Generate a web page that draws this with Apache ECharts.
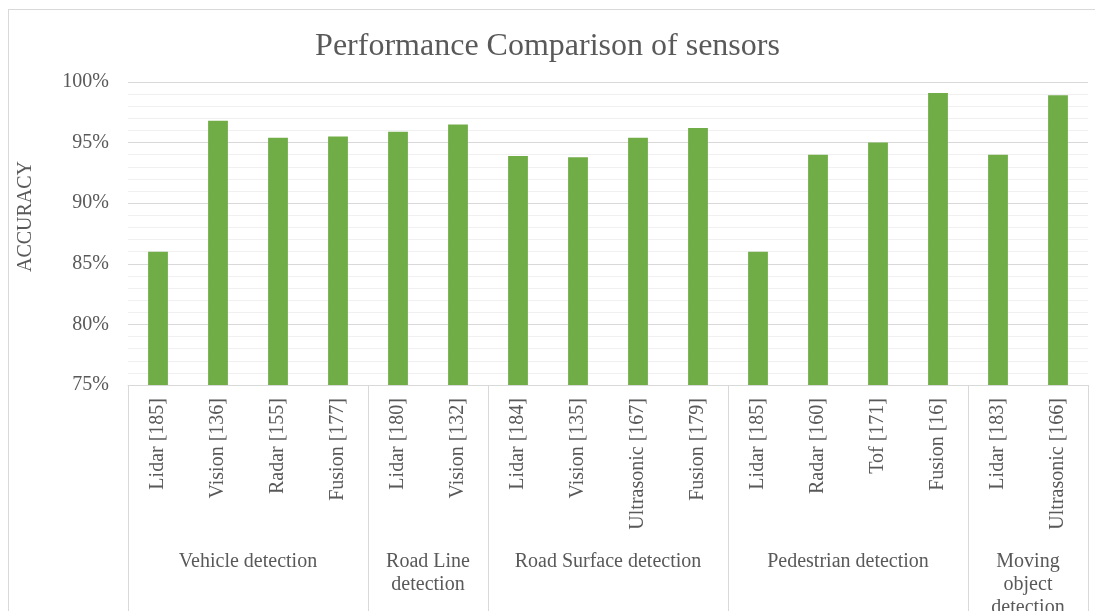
<!DOCTYPE html>
<html>
<head>
<meta charset="utf-8">
<script src="https://cdn.jsdelivr.net/npm/echarts@6/dist/echarts.min.js"></script>
<style>
  html, body { margin: 0; padding: 0; background: #fff; }
  #frame { position: absolute; left: 8px; top: 9px; width: 1200px; height: 700px; border: 1px solid #d9d9d9; box-sizing: border-box; }
  #chart { position: absolute; left: 0; top: 0; width: 1095px; height: 611px; }
</style>
</head>
<body>
<div id="frame"></div>
<div id="chart"></div>
<script>
const categories = ['Lidar [185]', 'Vision [136]', 'Radar [155]', 'Fusion [177]',
  'Lidar [180]', 'Vision [132]',
  'Lidar [184]', 'Vision [135]', 'Ultrasonic [167]', 'Fusion [179]',
  'Lidar [185]', 'Radar [160]', 'Tof [171]', 'Fusion [16]',
  'Lidar [183]', 'Ultrasonic [166]'];
const accuracy = [86, 96.8, 95.4, 95.5, 95.9, 96.5, 93.9, 93.8, 95.4, 96.2, 86, 94, 95, 99.1, 94, 98.9];
const groupNames = ['Vehicle detection', 'Road Line\ndetection', 'Road Surface detection', 'Pedestrian detection', 'Moving\nobject\ndetection'];
const groupSizes = [4, 2, 4, 4, 2];
const yTicks = [75, 80, 85, 90, 95, 100];

// group boundaries and centres derived from group sizes
const boundaries = [0];
const centres = [];
groupSizes.forEach(function (n) {
  const start = boundaries[boundaries.length - 1];
  centres.push(start + n / 2);
  boundaries.push(start + n);
});

const textColor = '#595959';
const font = 'Liberation Serif';

const chart = echarts.init(document.getElementById('chart'), null, { renderer: 'canvas' });
chart.setOption({
  backgroundColor: 'transparent',
  animation: false,
  title: {
    text: 'Performance Comparison of sensors',
    left: 'center',
    top: 26,
    textStyle: { fontFamily: font, fontSize: 32, fontWeight: 'normal', color: textColor }
  },
  grid: { left: 128, right: 7, top: 82, bottom: 226, containLabel: false, outerBoundsMode: 'none' },
  xAxis: [
    {
      type: 'category',
      data: categories,
      axisLine: { show: true, lineStyle: { color: '#d9d9d9', width: 1 } },
      axisTick: { show: false },
      axisLabel: {
        rotate: 90, interval: 0, margin: 13,
        fontFamily: font, fontSize: 20, color: textColor
      }
    },
    {
      type: 'value',
      min: 0,
      max: boundaries[boundaries.length - 1],
      position: 'bottom',
      axisLine: { show: false },
      splitLine: { show: false },
      axisTick: {
        show: true, length: 230, inside: false,
        customValues: boundaries,
        lineStyle: { color: '#d9d9d9', width: 1 }
      },
      axisLabel: {
        show: true,
        customValues: centres,
        margin: 165,
        verticalAlign: 'top',
        lineHeight: 23,
        fontFamily: font, fontSize: 20, color: textColor, align: 'center',
        formatter: function (v) {
          const i = centres.indexOf(v);
          return i >= 0 ? groupNames[i] : '';
        }
      }
    }
  ],
  yAxis: {
    type: 'value',
    min: yTicks[0],
    max: yTicks[yTicks.length - 1],
    interval: 5,
    name: 'ACCURACY',
    nameLocation: 'middle',
    nameGap: 92,
    nameRotate: 90,
    nameTextStyle: { fontFamily: font, fontSize: 20, color: textColor, padding: [0, 0, 0, 34] },
    axisLine: { show: false },
    axisTick: { show: false },
    axisLabel: { fontFamily: font, fontSize: 20, color: textColor, margin: 19, formatter: '{value}%' },
    splitLine: { show: true, lineStyle: { color: '#d9d9d9', width: 1 } },
    minorTick: { show: false, splitNumber: 5 },
    minorSplitLine: { show: true, lineStyle: { color: '#f0f0f0', width: 1 } }
  },
  series: [{
    type: 'bar',
    xAxisIndex: 0,
    data: accuracy,
    barWidth: '33%',
    itemStyle: { color: '#70ad47' }
  }]
});
</script>
</body>
</html>
